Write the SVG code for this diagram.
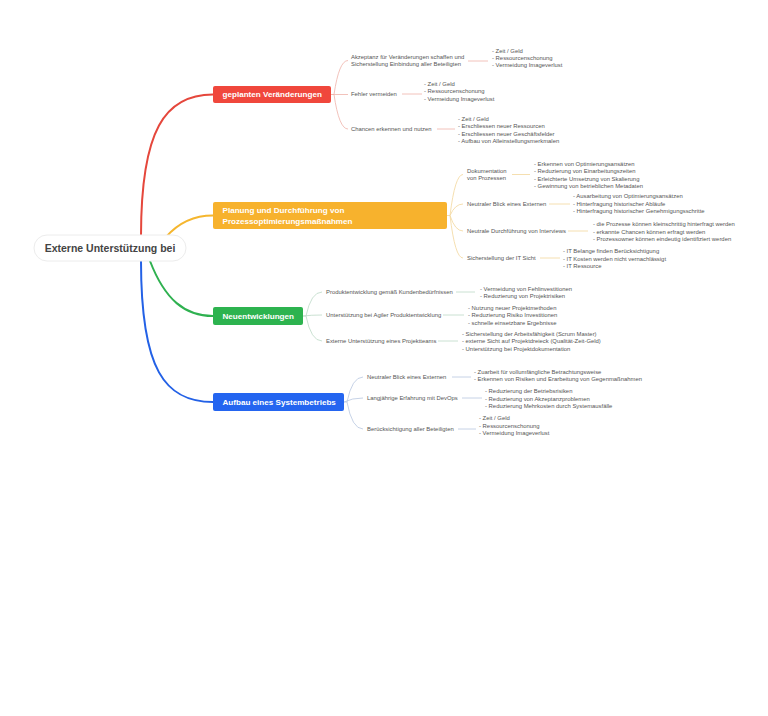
<svg xmlns="http://www.w3.org/2000/svg" width="768" height="716" viewBox="0 0 768 716">
<style>
text{font-family:"Liberation Sans",Arial,sans-serif}
.t{font-size:5.9px;fill:#555}
.n{font-size:8.1px;font-weight:bold;fill:#fff}
.r{font-size:10.5px;font-weight:bold;fill:#444}
.main{fill:none;stroke-width:2;stroke-linecap:round}
.sub{fill:none;stroke-width:0.8}
.rs{stroke:#efb2aa}.os{stroke:#f3d79c}.gs{stroke:#bcd9c6}.bs{stroke:#b8c6e0}
</style>
<rect width="768" height="716" fill="#fff"/>
<g id="connectors">
<path class="main" stroke="#e5473c" d="M141 236 C141 130 165 94.5 213 94.5"/>
<path class="main" stroke="#f5b62e" d="M166 237 C180 221 195 215.5 213 215.5"/>
<path class="main" stroke="#2fb150" d="M150 261 C165 300 185 316 213 316"/>
<path class="main" stroke="#2361e6" d="M141 261 C141 370 165 402 213 402"/>
<g class="sub rs">
<path d="M331 94.5 H334 Q339 60.5 348 60.5"/>
<path d="M331 94.5 H348"/>
<path d="M334 94.5 Q339 129 348 129"/>
<path d="M468 61 H488"/><path d="M402 94 H422"/><path d="M437 129 H455"/>
</g>
<g class="sub os">
<path d="M447 215.5 H450 Q455 174.5 463 174.5"/>
<path d="M450 215.5 Q455 204 463 204"/>
<path d="M450 215.5 Q455 231 463 231"/>
<path d="M450 215.5 Q455 258 463 258"/>
<path d="M512 174.5 H530"/><path d="M549 204 H570"/><path d="M568 231 H588"/><path d="M540 258 H560"/>
</g>
<g class="sub gs">
<path d="M303 316 H306 Q311 292 322 292"/>
<path d="M303 316 Q311 315 322 315"/>
<path d="M306 316 Q311 341 322 341"/>
<path d="M456 292 H475"/><path d="M443 315 H464"/><path d="M438 341 H458"/>
</g>
<g class="sub bs">
<path d="M344 402 H347 Q352 377 363 377"/>
<path d="M344 402 Q352 398 363 398"/>
<path d="M347 402 Q352 429 363 429"/>
<path d="M452 377 H471"/><path d="M462 398 H482"/><path d="M458 429 H476"/>
</g>
</g>
<g id="root">
<rect x="34" y="235" width="152" height="26" rx="13" fill="#fff" stroke="#ececec"/>
<text class="r" x="110" y="251.8" text-anchor="middle">Externe Unterstützung bei</text>
</g>
<g id="n-red">
<rect x="213" y="86" width="118" height="17" rx="2" fill="#f0473c"/>
<text class="n" x="222.5" y="97.4">geplanten Veränderungen</text>
</g>
<g id="n-orange">
<rect x="213" y="202" width="234" height="27" rx="2" fill="#f7b22d"/>
<text class="n" x="222.5" y="213">Planung und Durchführung von</text>
<text class="n" x="222.5" y="223.5">Prozessoptimierungsmaßnahmen</text>
</g>
<g id="n-green">
<rect x="213" y="307" width="90" height="18" rx="2" fill="#2db34f"/>
<text class="n" x="222.5" y="319">Neuentwicklungen</text>
</g>
<g id="n-blue">
<rect x="213" y="393" width="131" height="18" rx="2" fill="#2465f0"/>
<text class="n" x="222.5" y="405">Aufbau eines Systembetriebs</text>
</g>
<g id="red-children">
<text class="t" x="351" y="59">Akzeptanz für Veränderungen schaffen und</text>
<text class="t" x="351" y="66.2">Sicherstellung Einbindung aller Beteiligten</text>
<text class="t" x="492" y="53">- Zeit / Geld</text>
<text class="t" x="492" y="60.2">- Ressourcenschonung</text>
<text class="t" x="492" y="67.4">- Vermeidung Imageverlust</text>
<text class="t" x="351" y="96">Fehler vermeiden</text>
<text class="t" x="424" y="86">- Zeit / Geld</text>
<text class="t" x="424" y="93.4">- Ressourcenschonung</text>
<text class="t" x="424" y="100.8">- Vermeidung Imageverlust</text>
<text class="t" x="351" y="131">Chancen erkennen und nutzen</text>
<text class="t" x="458" y="121">- Zeit / Geld</text>
<text class="t" x="458" y="128.4">- Erschliessen neuer Ressourcen</text>
<text class="t" x="458" y="135.8">- Erschliessen neuer Geschäftsfelder</text>
<text class="t" x="458" y="143.2">- Aufbau von Alleinstellungsmerkmalen</text>
</g>
<g id="orange-children">
<text class="t" x="467" y="173">Dokumentation</text>
<text class="t" x="467" y="180">von Prozessen</text>
<text class="t" x="534" y="166">- Erkennen von Optimierungsansätzen</text>
<text class="t" x="534" y="173.3">- Reduzierung von Einarbeitungszeiten</text>
<text class="t" x="534" y="180.6">- Erleichterte Umsetzung von Skalierung</text>
<text class="t" x="534" y="187.9">- Gewinnung von betrieblichen Metadaten</text>
<text class="t" x="467" y="206">Neutraler Blick eines Externen</text>
<text class="t" x="573" y="198">- Ausarbeitung von Optimierungsansätzen</text>
<text class="t" x="573" y="205.5">- Hinterfragung historischer Abläufe</text>
<text class="t" x="573" y="213">- Hinterfragung historischer Genehmigungsschritte</text>
<text class="t" x="467" y="233">Neutrale Durchführung von Interviews</text>
<text class="t" x="593" y="226">- die Prozesse können kleinschrittig hinterfragt werden</text>
<text class="t" x="593" y="233.5">- erkannte Chancen können erfragt werden</text>
<text class="t" x="593" y="241">- Prozessowner können eindeutig identifiziert werden</text>
<text class="t" x="467" y="260">Sicherstellung der IT Sicht</text>
<text class="t" x="563" y="253">- IT Belange finden Berücksichtigung</text>
<text class="t" x="563" y="260.5">- IT Kosten werden nicht vernachlässigt</text>
<text class="t" x="563" y="268">- IT Ressource</text>
</g>
<g id="green-children">
<text class="t" x="326" y="294">Produktentwicklung gemäß Kundenbedürfnissen</text>
<text class="t" x="480" y="291">- Vermeidung von Fehlinvestitionen</text>
<text class="t" x="480" y="298.3">- Reduzierung von Projektrisiken</text>
<text class="t" x="326" y="317">Unterstützung bei Agiler Produktentwicklung</text>
<text class="t" x="468" y="309.5">- Nutzung neuer Projektmethoden</text>
<text class="t" x="468" y="317">- Reduzierung Risiko Investitionen</text>
<text class="t" x="468" y="324.5">- schnelle einsetzbare Ergebnisse</text>
<text class="t" x="326" y="343">Externe Unterstützung eines Projektteams</text>
<text class="t" x="462" y="335.5">- Sicherstellung der Arbeitsfähigkeit (Scrum Master)</text>
<text class="t" x="462" y="343">- externe Sicht auf Projektdreieck (Qualität-Zeit-Geld)</text>
<text class="t" x="462" y="350.5">- Unterstützung bei Projektdokumentation</text>
</g>
<g id="blue-children">
<text class="t" x="367" y="379">Neutraler Blick eines Externen</text>
<text class="t" x="474" y="374">- Zuarbeit für vollumfängliche Betrachtungsweise</text>
<text class="t" x="474" y="381.4">- Erkennen von Risiken und Erarbeitung von Gegenmaßnahmen</text>
<text class="t" x="367" y="400">Langjährige Erfahrung mit DevOps</text>
<text class="t" x="485" y="393">- Reduzierung der Betriebsrisiken</text>
<text class="t" x="485" y="400.5">- Reduzierung von Akzeptanzproblemen</text>
<text class="t" x="485" y="408">- Reduzierung Mehrkosten durch Systemausfälle</text>
<text class="t" x="367" y="431">Berücksichtigung aller Beteiligten</text>
<text class="t" x="479" y="420">- Zeit / Geld</text>
<text class="t" x="479" y="427.5">- Ressourcenschonung</text>
<text class="t" x="479" y="435">- Vermeidung Imageverlust</text>
</g>
</svg>
